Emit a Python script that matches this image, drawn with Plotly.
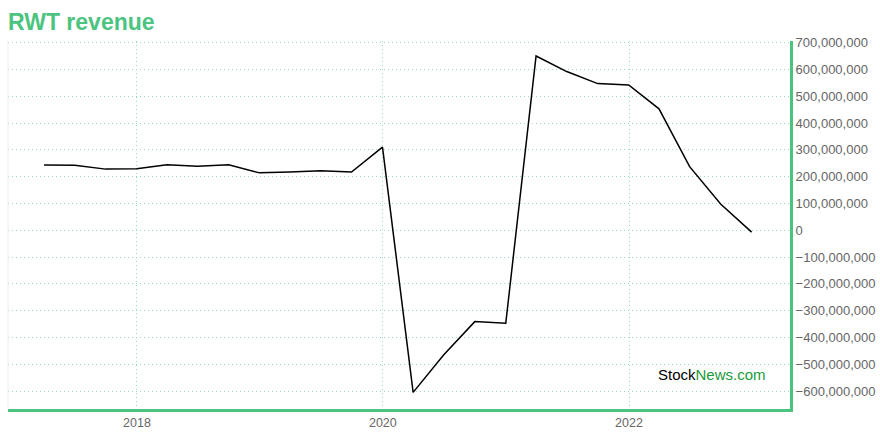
import plotly.graph_objects as go

dates = [
    "2017-03-31", "2017-06-30", "2017-09-30", "2017-12-31",
    "2018-03-31", "2018-06-30", "2018-09-30", "2018-12-31",
    "2019-03-31", "2019-06-30", "2019-09-30", "2019-12-31",
    "2020-03-31", "2020-06-30", "2020-09-30", "2020-12-31",
    "2021-03-31", "2021-06-30", "2021-09-30", "2021-12-31",
    "2022-03-31", "2022-06-30", "2022-09-30", "2022-12-31",
]
revenue = [
    243e6, 242e6, 228e6, 229e6,
    244e6, 239e6, 244e6, 214e6,
    217e6, 222e6, 217e6, 310e6,
    -605e6, -465e6, -341e6, -347e6,
    650e6, 592e6, 547e6, 542e6,
    453e6, 237e6, 98e6, -7e6,
]
y_ticks = list(range(-600_000_000, 700_000_001, 100_000_000))
x_ticks = ["2018-01-01", "2020-01-01", "2022-01-01"]
x_tick_labels = ["2018", "2020", "2022"]

green = "#4cc47f"
grid = "#9ddcb8"

fig = go.Figure(
    go.Scatter(x=dates, y=revenue, mode="lines",
               line=dict(color="#000000", width=1.5), hoverinfo="x+y")
)

fig.update_layout(
    width=880, height=440,
    margin=dict(l=8, r=90, t=41, b=31, autoexpand=False),
    paper_bgcolor="white", plot_bgcolor="white",
    showlegend=False,
    font=dict(family="Liberation Sans, Arial, sans-serif", color="#666666", size=12),
    title=dict(text="<b>RWT revenue</b>", x=0, xanchor="left", xref="container",
               y=0.968, yanchor="top", pad=dict(l=8),
               font=dict(size=23, color=green, family="Liberation Sans, Arial, sans-serif")),
    xaxis=dict(
        type="date", range=["2016-12-14", "2023-04-24"], automargin=False,
        tickvals=x_ticks, ticktext=x_tick_labels,
        showgrid=True, gridcolor=grid, griddash="1px,3px", gridwidth=1,
        showline=True, linecolor=green, linewidth=3,
        ticks="", zeroline=False, tickfont=dict(size=12.5, color="#666666"),
    ),
    yaxis=dict(
        side="right", range=[-667e6, 706e6], automargin=False,
        tickvals=y_ticks, tickformat=",d",
        showgrid=True, gridcolor=grid, griddash="1px,3px", gridwidth=1,
        showline=True, linecolor=green, linewidth=3,
        ticks="", zeroline=False, tickfont=dict(size=13, color="#666666"),
    ),
)
pw, ph = 880 - 8 - 90, 440 - 41 - 31
fig.add_annotation(
    text="<span style='color:#000000'>Stock</span><span style='color:#1a9a3a'>News.com</span>",
    x=(712 - 8) / pw, y=(409 - 374) / ph, xref="paper", yref="paper",
    xanchor="center", yanchor="middle", showarrow=False,
    font=dict(size=15, family="Liberation Sans, Arial, sans-serif"),
)

fig.add_shape(type="line", xref="paper", yref="paper", x0=0, x1=0, y0=0, y1=1,
              line=dict(color="#eeeeee", width=1))

fig.write_html("out.html", config={"displayModeBar": False},
               post_script="document.body.style.margin='0';")
